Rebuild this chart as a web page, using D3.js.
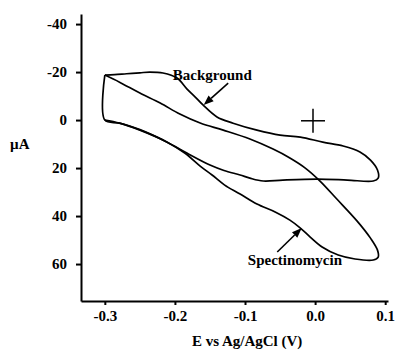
<!DOCTYPE html>
<html>
<head>
<meta charset="utf-8">
<script src="https://cdn.jsdelivr.net/npm/d3@7"></script>
<style>
  html, body { margin: 0; padding: 0; background: #fff; }
  svg { display: block; }
  text { font-family: 'Liberation Serif', 'Times New Roman', serif; fill: #000; }
</style>
</head>
<body>
<svg id="chart" width="396" height="352"></svg>
<script>
// ---- data (E in V vs Ag/AgCl, I in µA; negative current plotted upward) ----
const bgE = [-0.300,-0.286,-0.269,-0.250,-0.236,-0.217,-0.197,-0.183,-0.171,-0.160,-0.140,-0.117,-0.083,-0.050,-0.021,0.011,0.040,0.064,0.079,0.089,0.090,0.083,0.046,0.003,-0.046,-0.074,-0.093,-0.107,-0.130,-0.150,-0.183,-0.211,-0.250,-0.279,-0.300,-0.300];
const bgI = [-18.75,-18.9,-19.3,-19.7,-20.0,-19.6,-17.5,-13.0,-9.6,-6.3,-1.3,1.3,4.2,6.3,7.1,9.2,10.8,13.3,16.7,20.8,24.2,25.4,25.0,24.6,25.0,25.4,24.2,22.9,21.0,18.75,13.75,9.2,4.0,1.3,0.0,-18.75];

const spE = [-0.300,-0.279,-0.250,-0.221,-0.193,-0.164,-0.131,-0.093,-0.060,-0.036,-0.014,0.007,0.031,0.060,0.079,0.089,0.090,0.083,0.057,0.033,0.010,-0.007,-0.021,-0.036,-0.057,-0.083,-0.107,-0.129,-0.147,-0.164,-0.186,-0.211,-0.250,-0.279,-0.300];
const spI = [-18.75,-15.8,-11.25,-7.1,-2.5,1.25,4.2,7.9,12.1,15.8,20.0,25.4,32.9,42.1,49.2,54.2,57.1,58.3,57.9,56.25,52.9,48.75,45.0,41.7,38.3,35.0,30.8,27.1,22.9,19.2,13.75,9.2,4.2,1.3,0.0];

const xTicks = [-0.3, -0.2, -0.1, 0.0, 0.1];
const xTickLabels = ["-0.3", "-0.2", "-0.1", "0.0", "0.1"];
const yTicks = [-40, -20, 0, 20, 40, 60];
const yTickLabels = ["-40", "-20", "0", "20", "40", "60"];

const labels = ["Background", "Spectinomycin"];
const labelE = [-0.203, -0.096];
const labelI = [-16.7, 60.4];
const arrowTailE = [-0.124, -0.054];
const arrowTailI = [-15.4, 55.0];
const arrowTipE = [-0.159, -0.019];
const arrowTipI = [-6.25, 45.0];

const crossE = [-0.003];
const crossI = [0.3];

const xTitle = "E vs Ag/AgCl (V)";
const xTitleE = -0.097;
const yTitle = "µA";

// ---- drawing ----
const svg = d3.select("#chart");
const x = d3.scaleLinear().domain([-0.334, 0.104]).range([81, 388]);
const y = d3.scaleLinear().domain([-44.2, 75.4]).range([14, 301]);

const fontSize = 15;

// axes
const yAxis = d3.axisLeft(y).tickValues(yTicks).tickSize(5).tickSizeOuter(0).tickPadding(9)
  .tickFormat((d, i) => yTickLabels[i]);
const xAxis = d3.axisBottom(x).tickValues(xTicks).tickSize(4).tickSizeOuter(0).tickPadding(5)
  .tickFormat((d, i) => xTickLabels[i]);

const gy = svg.append("g").attr("transform", `translate(${x.range()[0]},0)`).call(yAxis);
const gx = svg.append("g").attr("transform", `translate(0,${y.range()[1]})`).call(xAxis);
[gx, gy].forEach(g => {
  g.select(".domain").attr("stroke", "#000").attr("stroke-width", 2);
  g.selectAll(".tick line").attr("stroke", "#000").attr("stroke-width", 2);
  g.selectAll(".tick text").attr("font-family", "'Liberation Serif', serif")
    .attr("font-size", fontSize).attr("font-weight", "bold").attr("fill", "#000");
});

// curves
const line = d3.line().x(d => x(d[0])).y(d => y(d[1])).curve(d3.curveCatmullRom.alpha(0.5));
const bg = bgE.map((e, i) => [e, bgI[i]]);
const sp = spE.map((e, i) => [e, spI[i]]);
[bg, sp].forEach(pts => {
  svg.append("path").attr("d", line(pts)).attr("fill", "none")
    .attr("stroke", "#000").attr("stroke-width", 1.7).attr("stroke-linejoin", "round");
});

// cross marker
crossE.forEach((e, i) => {
  const cx = x(e), cy = y(crossI[i]), a = 12;
  svg.append("line").attr("x1", cx - a).attr("x2", cx + a).attr("y1", cy).attr("y2", cy)
    .attr("stroke", "#000").attr("stroke-width", 1.5);
  svg.append("line").attr("x1", cx).attr("x2", cx).attr("y1", cy - a).attr("y2", cy + a)
    .attr("stroke", "#000").attr("stroke-width", 1.5);
});

// annotations with arrows
labels.forEach((t, i) => {
  svg.append("text").attr("x", x(labelE[i])).attr("y", y(labelI[i]))
    .attr("font-size", fontSize).attr("font-weight", "bold").text(t);
  const x1 = x(arrowTailE[i]), y1 = y(arrowTailI[i]);
  const x2 = x(arrowTipE[i]), y2 = y(arrowTipI[i]);
  const ang = Math.atan2(y2 - y1, x2 - x1);
  const L = 10, W = 3.8;
  const bx = x2 - L * Math.cos(ang), by = y2 - L * Math.sin(ang);
  svg.append("line").attr("x1", x1).attr("y1", y1).attr("x2", bx).attr("y2", by)
    .attr("stroke", "#000").attr("stroke-width", 1.6);
  const px = -Math.sin(ang), py = Math.cos(ang);
  svg.append("path")
    .attr("d", `M${x2},${y2}L${bx + W * px},${by + W * py}L${bx - W * px},${by - W * py}Z`)
    .attr("fill", "#000");
});

// titles
svg.append("text").attr("x", x(xTitleE)).attr("y", 346)
  .attr("text-anchor", "middle").attr("font-size", fontSize).attr("font-weight", "bold").text(xTitle);
svg.append("text").attr("x", 10).attr("y", 149)
  .attr("font-size", fontSize).attr("font-weight", "bold").text(yTitle);
</script>
</body>
</html>
